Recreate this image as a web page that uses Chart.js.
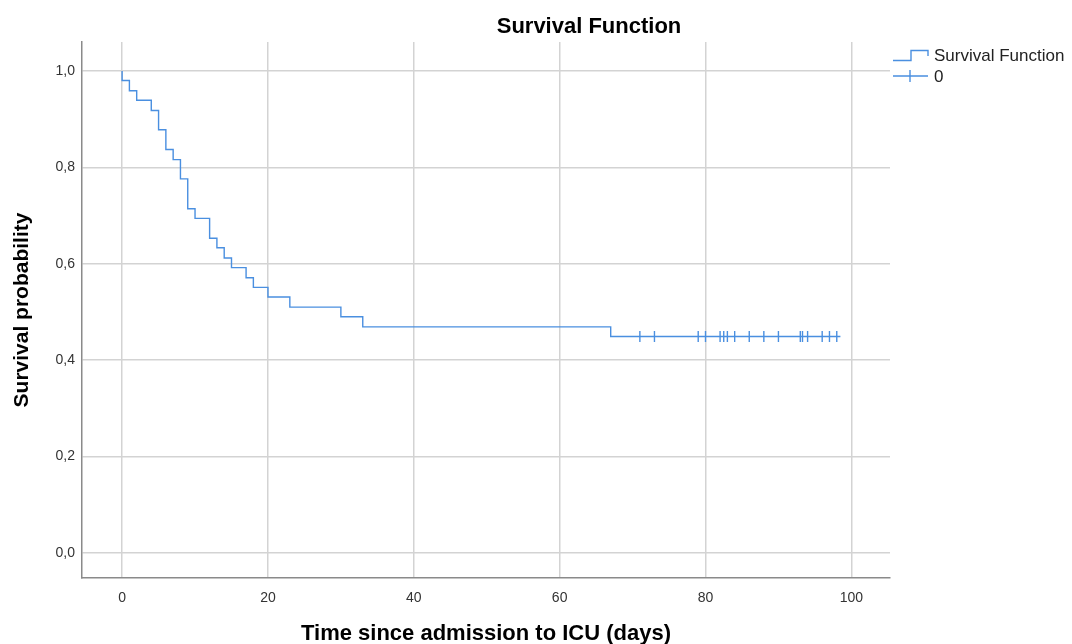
<!DOCTYPE html>
<html>
<head>
<meta charset="utf-8">
<script src="https://cdn.jsdelivr.net/npm/chart.js@4.4.1/dist/chart.umd.min.js"></script>
<style>
  body { margin: 0; background: #fff; }
  canvas { display: block; }
</style>
</head>
<body>
<canvas id="survivalChart" width="1072" height="644"></canvas>
<script>
// Kaplan-Meier steps (time in days, survival probability)
const stepTimes = [0, 0, 1, 2, 4, 5, 6, 7, 8, 9, 10, 12, 13, 14, 15, 17, 18, 20, 23, 30, 33, 67, 98.5];
const stepSurvival = [1, 0.980, 0.959, 0.939, 0.918, 0.878, 0.837, 0.816, 0.776, 0.714, 0.694, 0.653,
  0.633, 0.612, 0.592, 0.571, 0.551, 0.531, 0.510, 0.490, 0.469, 0.449, 0.449];

// censored cases
const censorTimes = [71, 73, 79, 80, 82, 82.5, 83, 84, 86, 88, 90, 93, 93.3, 94, 96, 97, 98];
const censorSurvival = [0.449, 0.449, 0.449, 0.449, 0.449, 0.449, 0.449, 0.449, 0.449, 0.449,
  0.449, 0.449, 0.449, 0.449, 0.449, 0.449, 0.449];

const xTicks = [0, 20, 40, 60, 80, 100];
const yTicks = [0, 0.2, 0.4, 0.6, 0.8, 1.0];

const lineColor = "#4a8fe0";
const fontFam = "'Liberation Sans', Arial, sans-serif";

const titleAndLegend = {
  id: "titleAndLegend",
  afterDraw(chart) {
    const ctx = chart.ctx;
    ctx.save();
    ctx.fillStyle = "#000";
    ctx.font = "bold 22px " + fontFam;
    ctx.textAlign = "center";
    ctx.textBaseline = "middle";
    ctx.fillText("Survival Function", 589, 27);

    // legend
    ctx.strokeStyle = lineColor;
    ctx.lineWidth = 1.4;
    ctx.beginPath();
    ctx.moveTo(893, 60.5);
    ctx.lineTo(911, 60.5);
    ctx.lineTo(911, 50.5);
    ctx.lineTo(928, 50.5);
    ctx.lineTo(928, 56);
    ctx.stroke();
    ctx.beginPath();
    ctx.moveTo(893, 76);
    ctx.lineTo(928, 76);
    ctx.moveTo(910, 70);
    ctx.lineTo(910, 82);
    ctx.stroke();

    ctx.fillStyle = "#222";
    ctx.font = "17px " + fontFam;
    ctx.textAlign = "left";
    ctx.fillText("Survival Function", 934, 56);
    ctx.fillText("0", 934, 77);
    ctx.restore();
  }
};

new Chart(document.getElementById("survivalChart"), {
  type: "line",
  data: {
    datasets: [
      {
        label: "Survival Function",
        data: stepTimes.map((t, i) => ({ x: t, y: stepSurvival[i] })),
        borderColor: lineColor,
        borderWidth: 1.4,
        stepped: "before",
        pointRadius: 0,
        fill: false
      },
      {
        type: "scatter",
        label: "0",
        data: censorTimes.map((t, i) => ({ x: t, y: censorSurvival[i] })),
        showLine: false,
        pointStyle: "line",
        rotation: 90,
        pointRadius: 5.5,
        borderColor: lineColor,
        borderWidth: 1.4
      }
    ]
  },
  options: {
    responsive: false,
    animation: false,
    layout: { padding: { top: 42, right: 182, left: 0, bottom: 0 } },
    plugins: {
      legend: { display: false },
      title: { display: false },
      tooltip: { enabled: false }
    },
    scales: {
      x: {
        type: "linear",
        min: -5.5,
        max: 105.3,
        afterBuildTicks: s => { s.ticks = xTicks.map(v => ({ value: v })); },
        afterFit: s => { s.height = 66; },
        grid: { color: "#d3d3d3", lineWidth: 1.5, drawTicks: false },
        border: { color: "#8a8a8a", width: 1.5 },
        ticks: { color: "#333", padding: 12, font: { family: fontFam, size: 14 } },
        title: {
          display: true,
          text: "Time since admission to ICU (days)",
          color: "#000",
          padding: { top: 0, bottom: -3 },
          font: { family: fontFam, size: 22, weight: "bold" }
        }
      },
      y: {
        min: -0.052,
        max: 1.06,
        afterBuildTicks: s => { s.ticks = yTicks.map(v => ({ value: v })); },
        afterFit: s => { s.width = 82; },
        grid: { color: "#d3d3d3", lineWidth: 1.5, drawTicks: false },
        border: { color: "#8a8a8a", width: 1.5 },
        ticks: {
          color: "#333",
          padding: 7,
          font: { family: fontFam, size: 14 },
          callback: v => v.toFixed(1).replace(".", ",")
        },
        title: {
          display: true,
          text: "Survival probability",
          color: "#000",
          padding: { top: 9.5, bottom: 0 },
          font: { family: fontFam, size: 21, weight: "bold" }
        }
      }
    }
  },
  plugins: [titleAndLegend]
});
</script>
</body>
</html>
